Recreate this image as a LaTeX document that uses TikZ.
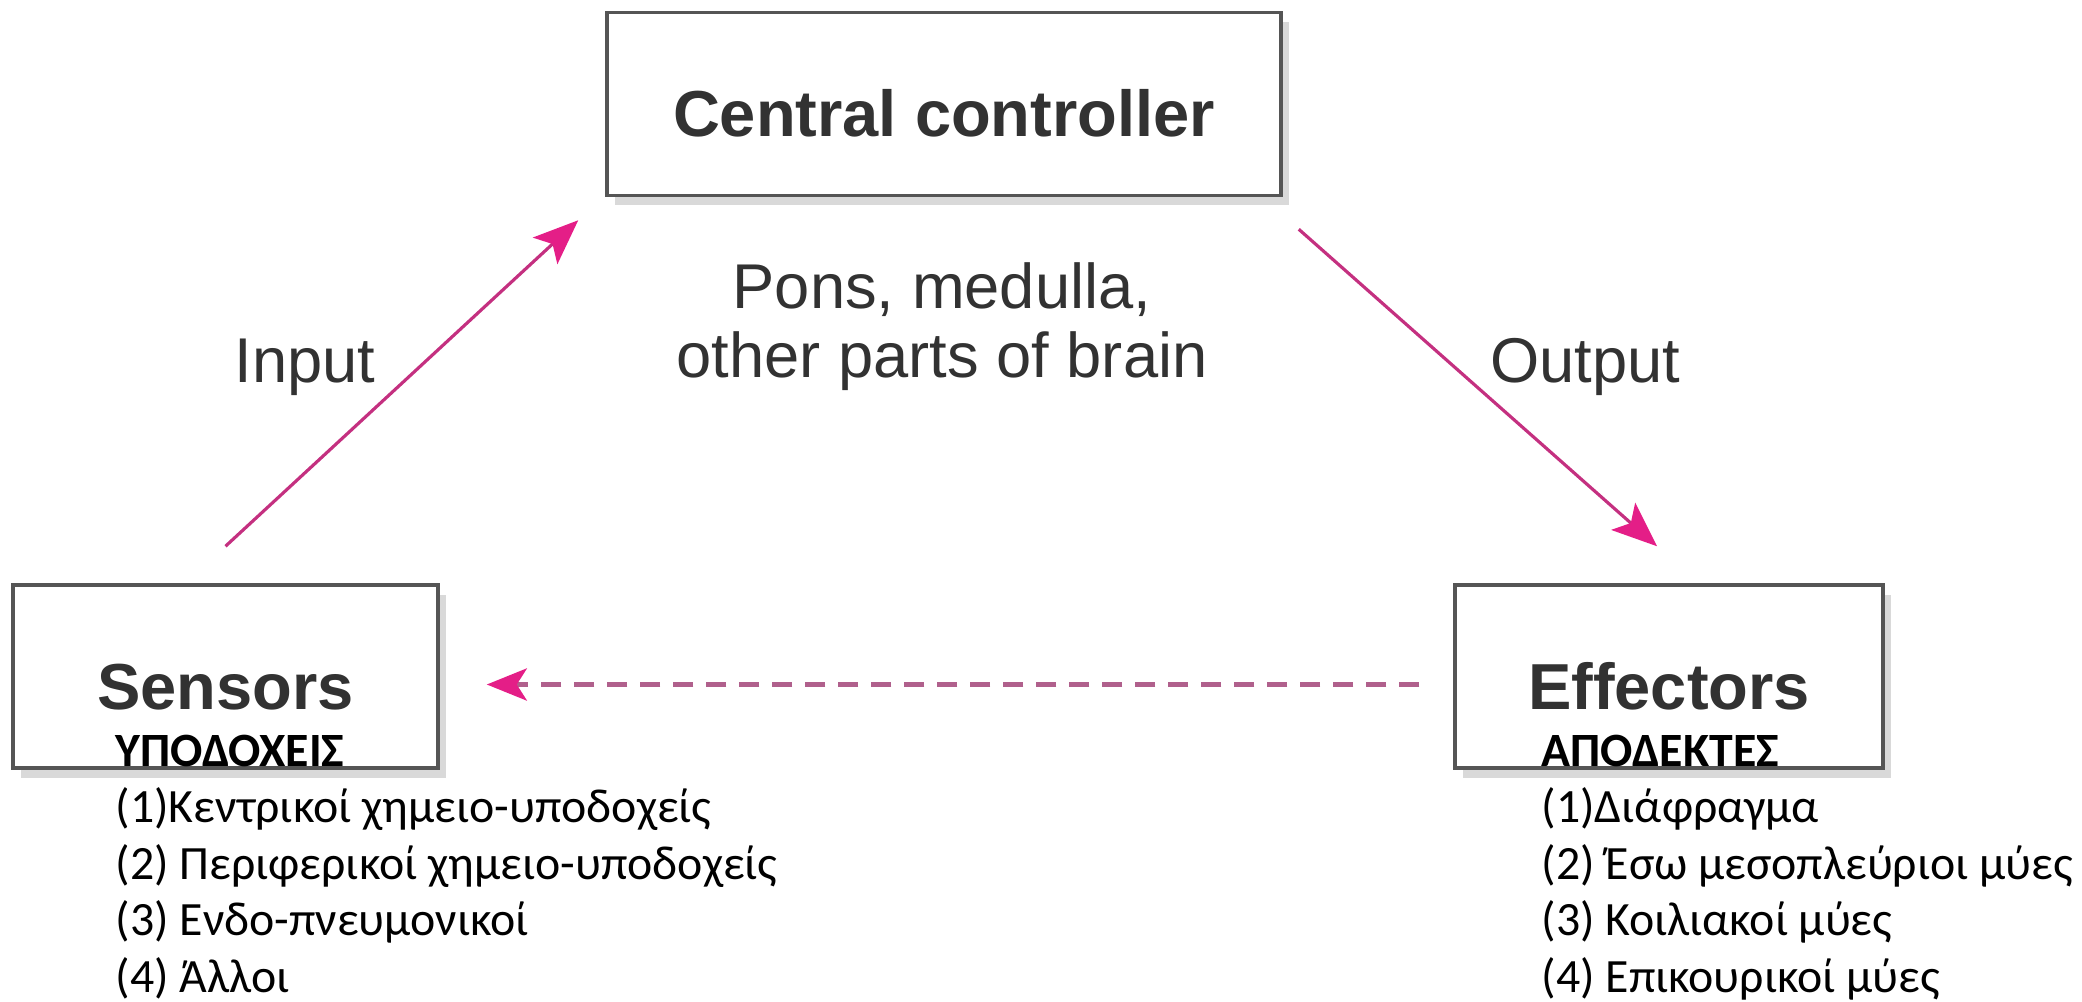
\documentclass[tikz,border=0pt]{standalone}
\usepackage{fontspec}
\setmainfont{Liberation Sans}
\newfontfamily\greekfont{Carlito}
\usetikzlibrary{arrows.meta, positioning, shadows}

\definecolor{boxgray}{RGB}{85,85,85}
\definecolor{textgray}{RGB}{50,50,50}
\definecolor{linkpink}{RGB}{196,48,128}
\definecolor{tippink}{RGB}{228,30,135}
\definecolor{dashpink}{RGB}{176,96,140}

\begin{document}
\begin{tikzpicture}[
    box/.style={draw=boxgray, line width=1pt, fill=white, minimum height=1.83cm, text=textgray, font=\bfseries\fontsize{18.5}{22}\selectfont, text height=0.66cm, text depth=0pt, drop shadow={shadow xshift=0.08cm, shadow yshift=-0.1cm, fill=black, opacity=0.15}},
    note/.style={text=textgray, font=\fontsize{18}{22}\selectfont, inner sep=0pt},
    arrow/.style={-{Stealth[length=0.45cm, width=0.36cm, inset=0.1cm, color=tippink]}, line width=0.9pt, draw=linkpink},
    dasharrow/.style={-{Stealth[length=0.4cm, width=0.32cm, inset=0.1cm, color=tippink]}, line width=1.4pt, draw=dashpink, dash pattern=on 0.2cm off 0.13cm},
    heading/.style={font=\greekfont\bfseries\fontsize{13.6}{16}\selectfont, inner sep=0pt, anchor=base west},
    item/.style={font=\greekfont\fontsize{13.6}{16}\selectfont, inner sep=0pt, anchor=base west}
  ]
  \useasboundingbox (0,0) rectangle (20.82,10.01);

  % The three boxes of the loop
  \node[box, minimum width=6.74cm] (central) at (9.44, 8.97) {Central controller};
  \node[box, minimum width=4.25cm] (sensors) at (2.255, 3.245) {Sensors};
  \node[box, minimum width=4.28cm] (effectors) at (16.69, 3.245) {Effectors};

  % Text under the central controller
  \node[note, anchor=base] (brain) at (9.42, 6.23) {other parts of brain};
  \node[note, anchor=base] (pons) at ([yshift=0.70cm]brain.base) {Pons, medulla,};

  % Input and output arrows
  \draw[arrow] ([yshift=0.37cm]sensors.north) -- ([xshift=-0.27cm, yshift=-0.23cm]central.south west);
  \draw[arrow] ([xshift=0.16cm, yshift=-0.32cm]central.south east) -- ([xshift=-0.12cm, yshift=0.37cm]effectors.north);
  \node[note, anchor=base] (input) at (3.05, 6.19) {Input};
  \node[note, anchor=base] (output) at (15.85, 6.19) {Output};

  % Feedback from effectors back to sensors
  \draw[dasharrow] ([xshift=-0.34cm, yshift=-0.08cm]effectors.west) -- ([xshift=0.47cm, yshift=-0.08cm]sensors.east);

  % Sensor list
  \node[heading] (sens_head) at (1.15, 2.35) {ΥΠΟΔΟΧΕΙΣ};
  \foreach \txt [count=\i] in {{(1)Κεντρικοί χημειο-υποδοχείς}, {(2) Περιφερικοί χημειο-υποδοχείς}, {(3) Ενδο-πνευμονικοί}, {(4) Άλλοι}} {
    \node[item] (sens_\i) at ([yshift=-\i*0.565cm]sens_head.base west) {\txt};
  }

  % Effector list
  \node[heading] (eff_head) at (15.41, 2.35) {ΑΠΟΔΕΚΤΕΣ};
  \foreach \txt [count=\i] in {{(1)Διάφραγμα}, {(2) Έσω μεσοπλεύριοι μύες}, {(3) Κοιλιακοί μύες}, {(4) Επικουρικοί μύες}} {
    \node[item] (eff_\i) at ([yshift=-\i*0.565cm]eff_head.base west) {\txt};
  }
\end{tikzpicture}
\end{document}
